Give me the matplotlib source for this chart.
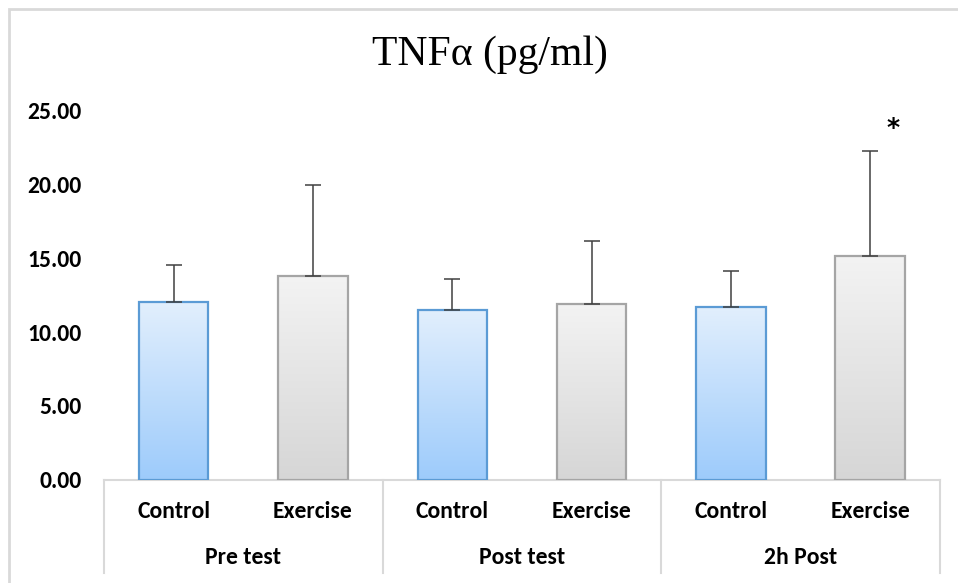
import numpy as np
import matplotlib.pyplot as plt
from matplotlib.colors import LinearSegmentedColormap
from matplotlib.patches import Rectangle
import matplotlib.transforms as mtransforms

# values
groups = ['Pre test', 'Post test', '2h Post']
subgroups = ['Control', 'Exercise']
means = [12.0, 13.8, 11.5, 11.9, 11.7, 15.15]
sds = [2.5, 6.15, 2.1, 4.25, 2.45, 7.1]
yticks = [0, 5, 10, 15, 20, 25]

fig = plt.figure(figsize=(9.58, 5.83), dpi=100)
ax = fig.add_axes([104 / 958, 1 - 480 / 583, (940 - 104) / 958, 370 / 583])

blue_cmap = LinearSegmentedColormap.from_list('b', ['#9DCBFB', '#E2EFFD'])
gray_cmap = LinearSegmentedColormap.from_list('g', ['#D6D6D6', '#F3F3F3'])
grad = np.linspace(0, 1, 256).reshape(-1, 1)

x = np.arange(len(means))
width = 0.5
for i, (m, s) in enumerate(zip(means, sds)):
    ctrl = i % 2 == 0
    edge = '#5B9BD5' if ctrl else '#A5A5A5'
    cmap = blue_cmap if ctrl else gray_cmap
    bar = ax.bar(x[i], m, width, facecolor='none', edgecolor=edge, linewidth=1.6, zorder=3)[0]
    im = ax.imshow(grad, cmap=cmap, origin='lower', aspect='auto',
                   extent=[x[i] - width / 2, x[i] + width / 2, 0, m], zorder=2)
    im.set_clip_path(bar)
    ax.errorbar(x[i], m, yerr=[[0], [s]], fmt='none', ecolor='#404040',
                elinewidth=1.1, capsize=6, capthick=1.1, zorder=4)

# significance marker
ax.text(x[5] + 0.16, means[5] + sds[5] + 0.7, '*', ha='center', va='bottom',
        fontsize=18, fontweight='bold', color='black')

ax.set_xlim(-0.5, 5.5)
ax.set_ylim(0, 25)
ax.set_yticks(yticks)
ax.set_yticklabels([f'{v:.2f}' for v in yticks])
ax.tick_params(axis='y', length=0, pad=16, labelsize=17)
ax.tick_params(axis='x', length=0, labelbottom=False)
for lab in ax.get_yticklabels():
    lab.set_family('Carlito')
    lab.set_fontweight('bold')
for side in ['top', 'right', 'left']:
    ax.spines[side].set_visible(False)
ax.spines['bottom'].set_color('#D9D9D9')
ax.spines['bottom'].set_linewidth(1.5)

# two-level category axis
trans = mtransforms.blended_transform_factory(ax.transData, ax.transAxes)
lab_font = dict(family='Carlito', fontweight='bold', fontsize=17)
for i in range(len(means)):
    ax.text(x[i], -0.085, subgroups[i % 2], transform=trans, ha='center', va='center', **lab_font)
for g, name in enumerate(groups):
    ax.text(2 * g + 0.5, -0.21, name, transform=trans, ha='center', va='center', **lab_font)
for xb in [-0.5, 1.5, 3.5, 5.5]:
    ax.plot([xb, xb], [0, -0.25], transform=trans, color='#D9D9D9', lw=1.5, clip_on=False)

fig.text(490 / 958, 1 - 55 / 583, 'TNFα (pg/ml)', ha='center', va='center', fontsize=30,
         family='Liberation Serif')

# outer chart frame
fig.patches.append(Rectangle((9 / 958, -0.1), 1.2, 1 - 9 / 583 + 0.1, transform=fig.transFigure,
                             fill=False, edgecolor='#D9D9D9', linewidth=2))

fig.savefig('out.png', dpi=100)
